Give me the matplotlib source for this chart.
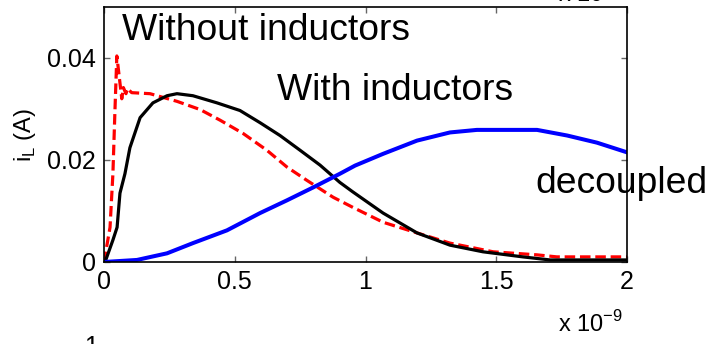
import matplotlib
matplotlib.use("Agg")
import matplotlib.pyplot as plt

plt.rcParams["font.family"] = ["Liberation Sans", "DejaVu Sans"]

# time in ns, current in A
t_without = [0, 0.023, 0.034, 0.042, 0.049, 0.068, 0.074, 0.084, 0.089, 0.106,
             0.176, 0.279, 0.367, 0.444, 0.532, 0.623, 0.700, 0.776, 0.876,
             0.952, 1.067, 1.197, 1.323, 1.488, 1.656, 1.732, 2.0]
i_without = [0, 0.0068, 0.0173, 0.030, 0.0404, 0.032, 0.0342, 0.033, 0.034, 0.0332,
             0.033, 0.0315, 0.0299, 0.0278, 0.0252, 0.0219, 0.0186, 0.016, 0.0127,
             0.0107, 0.0078, 0.0057, 0.0037, 0.002, 0.0014, 0.001, 0.001]

t_with = [0, 0.004, 0.034, 0.050, 0.061, 0.080, 0.099, 0.138, 0.187, 0.241, 0.279,
          0.340, 0.432, 0.520, 0.597, 0.673, 0.750, 0.826, 0.902, 0.950, 1.067,
          1.197, 1.323, 1.449, 1.602, 1.706, 2.0]
i_with = [0, 0, 0.0043, 0.0068, 0.0135, 0.0173, 0.0224, 0.0283, 0.0312, 0.0326, 0.033,
          0.0326, 0.0312, 0.0297, 0.0273, 0.0248, 0.0219, 0.019, 0.0156, 0.0138, 0.0096,
          0.0057, 0.0033, 0.002, 0.001, 0.0004, 0.0004]

t_dec = [0, 0.126, 0.241, 0.340, 0.470, 0.597, 0.700, 0.799, 0.902, 0.960, 1.067,
         1.197, 1.323, 1.426, 1.656, 1.771, 1.885, 2.0]
i_dec = [0, 0.0004, 0.0017, 0.0037, 0.0062, 0.0096, 0.0121, 0.0146, 0.0173, 0.0189,
         0.0212, 0.0238, 0.0254, 0.0259, 0.0259, 0.0248, 0.0234, 0.0215]

x_ticks = [0, 0.5, 1, 1.5, 2]
x_labels = ["0", "0.5", "1", "1.5", "2"]
y_ticks = [0, 0.02, 0.04]
y_labels = ["0", "0.02", "0.04"]

fig = plt.figure(figsize=(7.1, 3.44), dpi=100)
ax = fig.add_axes([0.1465, 0.2384, 0.7366, 0.7413])

ax.plot(t_without, i_without, color="red", linestyle="--", linewidth=2.3, dashes=(3.3, 1.5))
ax.plot(t_with, i_with, color="black", linewidth=2.3)
ax.plot(t_dec, i_dec, color="blue", linewidth=2.9)

ax.set_xlim(0, 2)
ax.set_ylim(0, 0.05)
ax.set_xticks(x_ticks)
ax.set_xticklabels(x_labels)
ax.set_yticks(y_ticks)
ax.set_yticklabels(y_labels)
ax.tick_params(direction="in", length=4, width=1, labelsize=18, top=True, right=True,
               pad=6, color="0.4")
for s in ax.spines.values():
    s.set_linewidth(1.2)
    s.set_zorder(5)

ax.set_ylabel("i$_\\mathregular{L}$ (A)", fontsize=17, labelpad=6)

ax.text(0.07, 0.0435, "Without inductors", fontsize=26.8, color="black")
ax.text(0.66, 0.0318, "With inductors", fontsize=26.8, color="black")
ax.text(1.65, 0.0135, "decoupled", fontsize=26.8, color="black", clip_on=False, zorder=2)

fig.text(0.786, 0.035, "x 10$^{\\mathregular{-9}}$", fontsize=17)
fig.text(0.786, 0.995, "x 10$^{\\mathregular{-9}}$", fontsize=17)
fig.text(0.118, -0.03, "1", fontsize=18)

fig.savefig("out.png", dpi=100)
